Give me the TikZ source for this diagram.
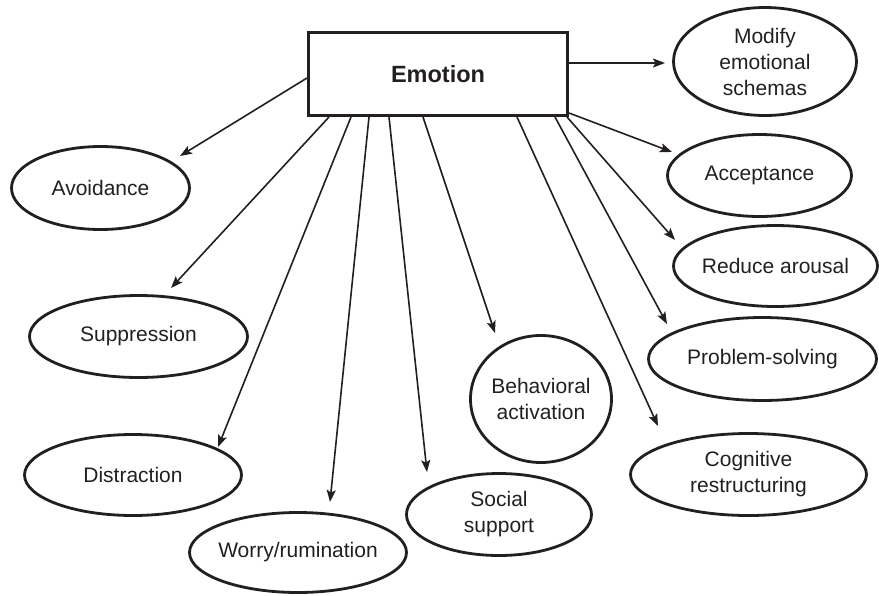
\documentclass[tikz,border=0pt]{standalone}
\usepackage{fontspec}
\setmainfont{Liberation Sans}
\usetikzlibrary{shapes.geometric,arrows.meta,calc}
\definecolor{ink}{HTML}{231F20}

\begin{document}
\begin{tikzpicture}[x=1pt,y=-1pt,
  oval/.style={ellipse,draw=ink,line width=2.8pt,inner sep=0pt},
  lbl/.style={align=center,text=ink,inner sep=0pt,font=\fontsize{21}{26}\selectfont},
  link/.style={draw=ink,line width=1.6pt,-{Stealth[length=12pt,width=9pt,inset=2.5pt]}}
]
\useasboundingbox (0,0) rectangle (879,595);

% central box
\node[draw=ink,line width=3pt,minimum width=259pt,minimum height=83pt,inner sep=0pt,
      text=ink,font=\fontsize{23.5}{28}\selectfont\bfseries] (emo) at (438,74) {Emotion};

% strategies
\node[oval,minimum width=183pt,minimum height=108pt,label={[lbl]center:{Modify\\emotional\\schemas}}] (modify) at (765,61.5) {};
\node[oval,minimum width=184pt,minimum height=82pt,label={[lbl]center:Acceptance}] (accept) at (759.5,175.5) {};
\node[oval,minimum width=204pt,minimum height=81pt,label={[lbl]center:Reduce arousal}] (reduce) at (775.5,266) {};
\node[oval,minimum width=228pt,minimum height=83pt,label={[lbl]center:Problem-solving}] (probl) at (762.5,359) {};
\node[oval,minimum width=236pt,minimum height=82pt,label={[lbl]center:{Cognitive\\restructuring}}] (cogn) at (748.5,474.5) {};
\node[oval,minimum width=141pt,minimum height=127pt,label={[lbl]center:{Behavioral\\activation}}] (behav) at (541,399) {};
\node[oval,minimum width=185pt,minimum height=82pt,label={[lbl]center:{Social\\support}}] (social) at (499,514.5) {};
\node[oval,minimum width=217pt,minimum height=80pt,label={[lbl]center:Worry/rumination}] (worry) at (298,552.5) {};
\node[oval,minimum width=217pt,minimum height=81pt,label={[lbl]center:Distraction}] (distr) at (133,475) {};
\node[oval,minimum width=218pt,minimum height=82pt,label={[lbl]center:Suppression}] (supp) at (138.5,336.5) {};
\node[oval,minimum width=178pt,minimum height=83pt,label={[lbl]center:Avoidance}] (avoid) at (100.5,188) {};

% connectors
\draw[link] ($(emo.west)+(0,4)$) -- ($(avoid.center)+(79.5,-32)$);
\draw[link] ($(emo.south west)+(22,0)$) -- ($(supp.center)+(32.5,-48.5)$);
\draw[link] ($(emo.south west)+(44,0)$) -- ($(distr.center)+(85,-28)$);
\draw[link] ($(emo.south west)+(62,0)$) -- ($(worry.center)+(32,-50.5)$);
\draw[link] ($(emo.south west)+(82,0)$) -- ($(social.center)+(-72,-42.5)$);
\draw[link] ($(emo.south west)+(116,0)$) -- ($(behav.center)+(-46,-66)$);
\draw[link] ($(emo.south west)+(210,0)$) -- ($(cogn.center)+(-90.5,-48.5)$);
\draw[link] ($(emo.south west)+(248,0)$) -- ($(probl.center)+(-95.5,-35)$);
\draw[link] ($(emo.south west)+(260,0)$) -- ($(reduce.center)+(-100.5,-26)$);
\draw[link] ($(emo.south east)+(0,-4)$) -- ($(accept.center)+(-87.5,-23.5)$);
\draw[link] ($(emo.east)+(0,-11)$) -- ($(modify.center)+(-100,1.5)$);
\end{tikzpicture}
\end{document}
